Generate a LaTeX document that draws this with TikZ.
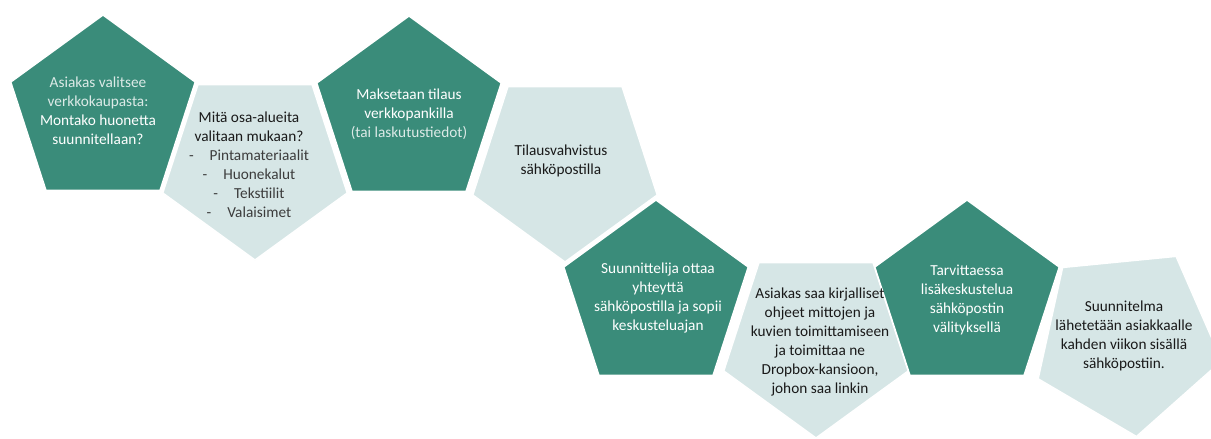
\documentclass[tikz,border=0pt]{standalone}
\usepackage{fontspec}
\setmainfont{Carlito}
\definecolor{tealdark}{RGB}{58,140,122}
\definecolor{tealpale}{RGB}{214,230,230}
\definecolor{inkdark}{RGB}{25,25,25}
\definecolor{inksoft}{RGB}{60,60,60}
\colorlet{whitesoft}{white!82!tealdark}
% regular pentagon of circumradius 97, point down / point up, centred at (#2,#3), turned by #4
\newcommand\pentdown[4]{\draw[#1,shift={(#2,#3)},rotate=#4]
  (90:97) -- (162:97) -- (234:97) -- (306:97) -- (18:97) -- cycle;}
\newcommand\pentup[4]{\draw[#1,shift={(#2,#3)},rotate=#4]
  (-90:97) -- (-18:97) -- (54:97) -- (126:97) -- (198:97) -- cycle;}
\begin{document}
\begin{tikzpicture}[x=1pt,y=-1pt,
  darkpent/.style={fill=tealdark, draw=white, line width=1.5pt},
  palepent/.style={fill=tealpale, draw=white, line width=1.5pt},
  caption/.style={align=center, inner sep=0pt, font=\fontsize{15.3}{19}\selectfont},
  ondark/.style={caption, text=white},
  onpale/.style={caption, text=inkdark}]
\useasboundingbox (0,0) rectangle (1211,439);

% pale steps (pointing down)
\pentdown{palepent}{255}{163}{0}
\pentdown{palepent}{565}{165}{0}
\pentdown{palepent}{816}{341}{0}
\pentdown{palepent}{1127}{340}{5.6}

% dark steps (pointing up)
\pentup{darkpent}{103}{112}{0}
\pentup{darkpent}{409}{113}{0}
\pentup{darkpent}{656}{297}{0}
\pentup{darkpent}{967}{297}{0}

% captions
\node[ondark] (s1) at (98,111) {\textcolor{whitesoft}{Asiakas valitsee}\\
  \textcolor{whitesoft}{verkkokaupasta:}\\Montako huonetta\\suunnitellaan?};
\node[onpale] (s2) at (249,165) {Mitä osa-alueita\\valitaan mukaan?\\
  \textcolor{inksoft}{-\hspace{16pt}Pintamateriaalit}\\
  \textcolor{inksoft}{-\hspace{16pt}Huonekalut}\\
  \textcolor{inksoft}{-\hspace{16pt}Tekstiilit}\\
  \textcolor{inksoft}{-\hspace{16pt}Valaisimet}};
\node[ondark] (s3) at (409,114) {Maksetaan tilaus\\verkkopankilla\\
  \textcolor{whitesoft}{(tai laskutustiedot)}};
\node[onpale] (s4) at (561,161) {Tilausvahvistus\\sähköpostilla};
\node[ondark] (s5) at (658,298) {Suunnittelija ottaa\\yhteyttä\\
  sähköpostilla ja sopii\\keskusteluajan};
\node[onpale] (s6) at (820,342) {Asiakas saa kirjalliset\\ohjeet mittojen ja\\
  kuvien toimittamiseen\\ja toimittaa ne\\Dropbox-kansioon,\\johon saa linkin};
\node[ondark] (s7) at (967,300) {Tarvittaessa\\lisäkeskustelua\\sähköpostin\\välityksellä};
\node[onpale] (s8) at (1124,336) {Suunnitelma\\lähetetään asiakkaalle\\
  kahden viikon sisällä\\sähköpostiin.};
\end{tikzpicture}
\end{document}
